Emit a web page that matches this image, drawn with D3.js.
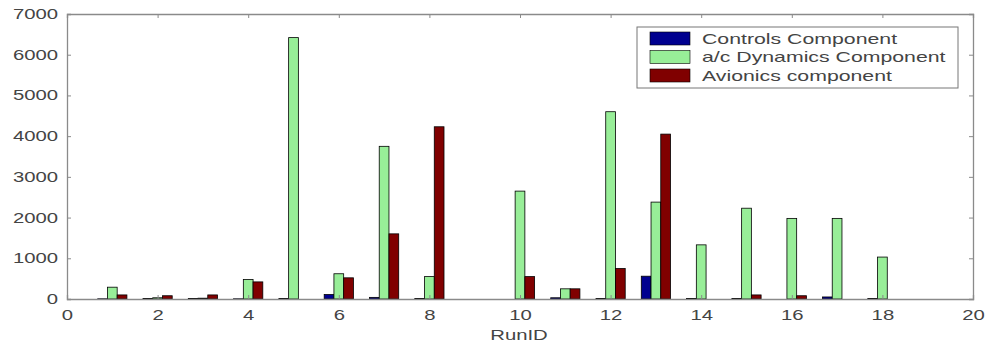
<!DOCTYPE html>
<html>
<head>
<meta charset="utf-8">
<script src="https://cdn.jsdelivr.net/npm/d3@7"></script>
<style>
  body { margin: 0; background: #fff; }
  text { font-family: "Liberation Sans", Arial, sans-serif; fill: #444; }
</style>
</head>
<body>
<div id="plot"></div>
<script>
// Data
var runIds = [1, 2, 3, 4, 5, 6, 7, 8, 9, 10, 11, 12, 13, 14, 15, 16, 17, 18];
var controls = [5, 10, 10, 5, 10, 110, 40, 10, 0, 0, 30, 10, 560, 10, 10, 0, 50, 10];
var dynamics = [290, 30, 20, 480, 6420, 620, 3750, 550, 0, 2650, 250, 4600, 2380, 1330, 2230, 1980, 1980, 1030];
var avionics = [100, 80, 100, 420, 0, 520, 1600, 4230, 0, 550, 250, 750, 4050, 0, 100, 80, 0, 0];
var seriesNames = ['Controls Component', 'a/c Dynamics Component', 'Avionics component'];
var seriesColors = ['#00008f', '#98ee98', '#800000'];
var xTicks = [0, 2, 4, 6, 8, 10, 12, 14, 16, 18, 20];
var yTicks = [0, 1000, 2000, 3000, 4000, 5000, 6000, 7000];

var width = 988, height = 344;
var margin = { top: 14, right: 15, bottom: 45, left: 67 };
var sx = 1.45;  // the source picture is stretched sideways

var svg = d3.select('#plot').append('svg')
    .attr('width', width)
    .attr('height', height);

var x = d3.scaleLinear().domain([0, 20]).range([margin.left, width - margin.right]);
var y = d3.scaleLinear().domain([0, 7000]).range([height - margin.bottom, margin.top]);

var series = [controls, dynamics, avionics];
var offset = 0.215;
var barW = offset;

// Bars
series.forEach(function(vals, s) {
    svg.append('g')
        .selectAll('rect')
        .data(runIds.map(function(r, i) { return { run: r, v: vals[i] }; }).filter(function(d) { return d.v > 0; }))
        .enter()
        .append('rect')
        .attr('x', function(d) { return x(d.run + (s - 1) * offset - barW / 2); })
        .attr('width', function(d) { return x(barW) - x(0); })
        .attr('y', function(d) { return y(d.v); })
        .attr('height', function(d) { return y(0) - y(d.v); })
        .attr('fill', seriesColors[s])
        .attr('stroke', '#000')
        .attr('stroke-width', 0.8);
});

// Axes (boxed, ticks inward)
var axisColor = '#8a8a8a';
var fmt = d3.format('d');
var axBottom = svg.append('g')
    .attr('transform', 'translate(0,' + y(0) + ')')
    .call(d3.axisBottom(x).tickValues(xTicks).tickSize(-4).tickPadding(11).tickFormat(fmt));
var axTop = svg.append('g')
    .attr('transform', 'translate(0,' + y(7000) + ')')
    .call(d3.axisTop(x).tickValues(xTicks).tickSize(-4).tickFormat(''));
var axLeft = svg.append('g')
    .attr('transform', 'translate(' + x(0) + ',0)')
    .call(d3.axisLeft(y).tickValues(yTicks).tickSize(-4).tickPadding(9).tickFormat(fmt));
var axRight = svg.append('g')
    .attr('transform', 'translate(' + x(20) + ',0)')
    .call(d3.axisRight(y).tickValues(yTicks).tickSize(-4).tickFormat(''));

[axBottom, axTop, axLeft, axRight].forEach(function(a) {
    a.selectAll('path, line').attr('stroke', axisColor);
    a.select('.domain').attr('stroke-width', 1.3);
    a.selectAll('text')
        .attr('font-size', 14)
        .attr('fill', '#444')
        .style('font-family', '"Liberation Sans", Arial, sans-serif')
        .attr('x', function() { return +d3.select(this).attr('x') / sx; })
        .attr('transform', 'scale(' + sx + ',1)');
});

// X label
svg.append('text')
    .attr('transform', 'translate(' + ((x(0) + x(20)) / 2 - 1) + ',' + (height - 4) + ') scale(' + sx + ',1)')
    .attr('text-anchor', 'middle')
    .attr('font-size', 14)
    .text('RunID');

// Legend
var legend = svg.append('g').attr('transform', 'translate(637,27)');
legend.append('rect')
    .attr('width', 321)
    .attr('height', 61)
    .attr('fill', '#fff')
    .attr('stroke', '#777')
    .attr('stroke-width', 1);
seriesNames.forEach(function(name, i) {
    var row = legend.append('g').attr('transform', 'translate(0,' + (5 + i * 18.5) + ')');
    row.append('rect')
        .attr('x', 13)
        .attr('width', 40)
        .attr('height', 13)
        .attr('fill', seriesColors[i])
        .attr('stroke', '#000')
        .attr('stroke-width', 0.6);
    row.append('text')
        .attr('transform', 'translate(65,11.5) scale(1.52,1)')
        .attr('font-size', 14)
        .text(name);
});
</script>
</body>
</html>
